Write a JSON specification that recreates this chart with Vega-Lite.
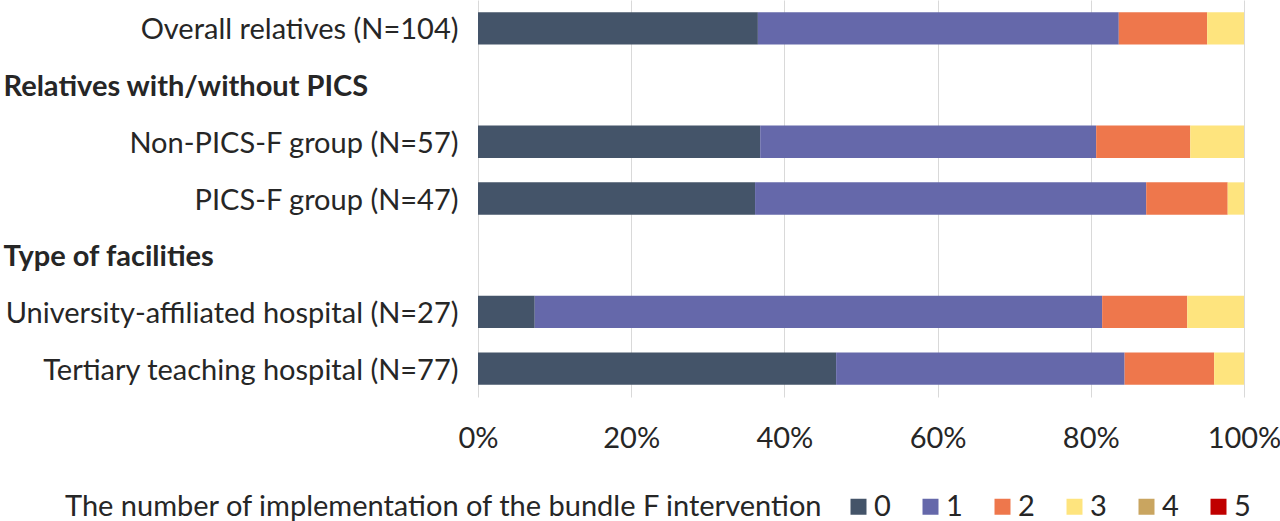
{
  "$schema": "https://vega.github.io/schema/vega-lite/v6.json",
  "autosize": "none",
  "width": 766,
  "height": 397,
  "padding": {"left": 478, "top": 0, "right": 36, "bottom": 124},
  "background": "white",
  "config": {
    "view": {"stroke": null},
    "font": "Lato",
    "text": {"font": "Lato"}
  },
  "data": {
    "values": [
      {"group": "Overall relatives (N=104)", "n": "0", "count": 38},
      {"group": "Overall relatives (N=104)", "n": "1", "count": 49},
      {"group": "Overall relatives (N=104)", "n": "2", "count": 12},
      {"group": "Overall relatives (N=104)", "n": "3", "count": 5},
      {"group": "Non-PICS-F group (N=57)", "n": "0", "count": 21},
      {"group": "Non-PICS-F group (N=57)", "n": "1", "count": 25},
      {"group": "Non-PICS-F group (N=57)", "n": "2", "count": 7},
      {"group": "Non-PICS-F group (N=57)", "n": "3", "count": 4},
      {"group": "PICS-F group (N=47)", "n": "0", "count": 17},
      {"group": "PICS-F group (N=47)", "n": "1", "count": 24},
      {"group": "PICS-F group (N=47)", "n": "2", "count": 5},
      {"group": "PICS-F group (N=47)", "n": "3", "count": 1},
      {"group": "University-affiliated hospital (N=27)", "n": "0", "count": 2},
      {"group": "University-affiliated hospital (N=27)", "n": "1", "count": 20},
      {"group": "University-affiliated hospital (N=27)", "n": "2", "count": 3},
      {"group": "University-affiliated hospital (N=27)", "n": "3", "count": 2},
      {"group": "Tertiary teaching hospital (N=77)", "n": "0", "count": 36},
      {"group": "Tertiary teaching hospital (N=77)", "n": "1", "count": 29},
      {"group": "Tertiary teaching hospital (N=77)", "n": "2", "count": 9},
      {"group": "Tertiary teaching hospital (N=77)", "n": "3", "count": 3}
    ]
  },
  "mark": {"type": "bar"},
  "encoding": {
    "y": {
      "field": "group",
      "type": "nominal",
      "scale": {
        "domain": [
          "Overall relatives (N=104)",
          "Relatives with/without PICS",
          "Non-PICS-F group (N=57)",
          "PICS-F group (N=47)",
          "Type of facilities",
          "University-affiliated hospital (N=27)",
          "Tertiary teaching hospital (N=77)"
        ],
        "paddingInner": 0.43,
        "paddingOuter": 0.215
      },
      "axis": {
        "title": null,
        "domain": false,
        "ticks": false,
        "labelFontSize": 29,
        "labelColor": "#262626",
        "labelLimit": 0,
        "labelOffset": 2,
        "labelAlign": {"condition": {"test": "datum.value === 'Relatives with/without PICS' || datum.value === 'Type of facilities'", "value": "left"}, "value": "right"},
        "labelPadding": {"condition": {"test": "datum.value === 'Relatives with/without PICS' || datum.value === 'Type of facilities'", "value": 475}, "value": 20},
        "labelFontWeight": {"condition": {"test": "datum.value === 'Relatives with/without PICS' || datum.value === 'Type of facilities'", "value": "bold"}, "value": "normal"}
      }
    },
    "x": {
      "field": "count",
      "type": "quantitative",
      "stack": "normalize",
      "scale": {"domain": [0, 1]},
      "axis": {
        "title": null,
        "format": "%",
        "values": [0, 0.2, 0.4, 0.6, 0.8, 1],
        "domain": false,
        "ticks": false,
        "grid": true,
        "gridColor": "#d9d9d9",
        "gridWidth": 1,
        "labelFontSize": 29,
        "labelColor": "#262626",
        "labelPadding": 27,
        "labelFlush": false
      }
    },
    "color": {
      "field": "n",
      "type": "nominal",
      "scale": {
        "domain": ["0", "1", "2", "3", "4", "5"],
        "range": ["#445469", "#6568AA", "#EE774C", "#FEE47E", "#C9A560", "#C00000"]
      },
      "legend": {
        "title": "The number of implementation of the bundle F intervention",
        "orient": "none",
        "direction": "horizontal",
        "legendX": -413,
        "legendY": 492,
        "titleOrient": "left",
        "titleFontSize": 29,
        "titleFontWeight": "normal",
        "titleColor": "#262626",
        "titlePadding": 20,
        "titleLimit": 0,
        "labelFontSize": 29,
        "labelColor": "#262626",
        "labelOffset": 1,
        "symbolType": "square",
        "symbolSize": 256,
        "symbolStrokeWidth": 0,
        "symbolOpacity": 1,
        "columnPadding": 25
      }
    },
    "order": {"field": "n", "type": "ordinal", "sort": "ascending"}
  }
}
